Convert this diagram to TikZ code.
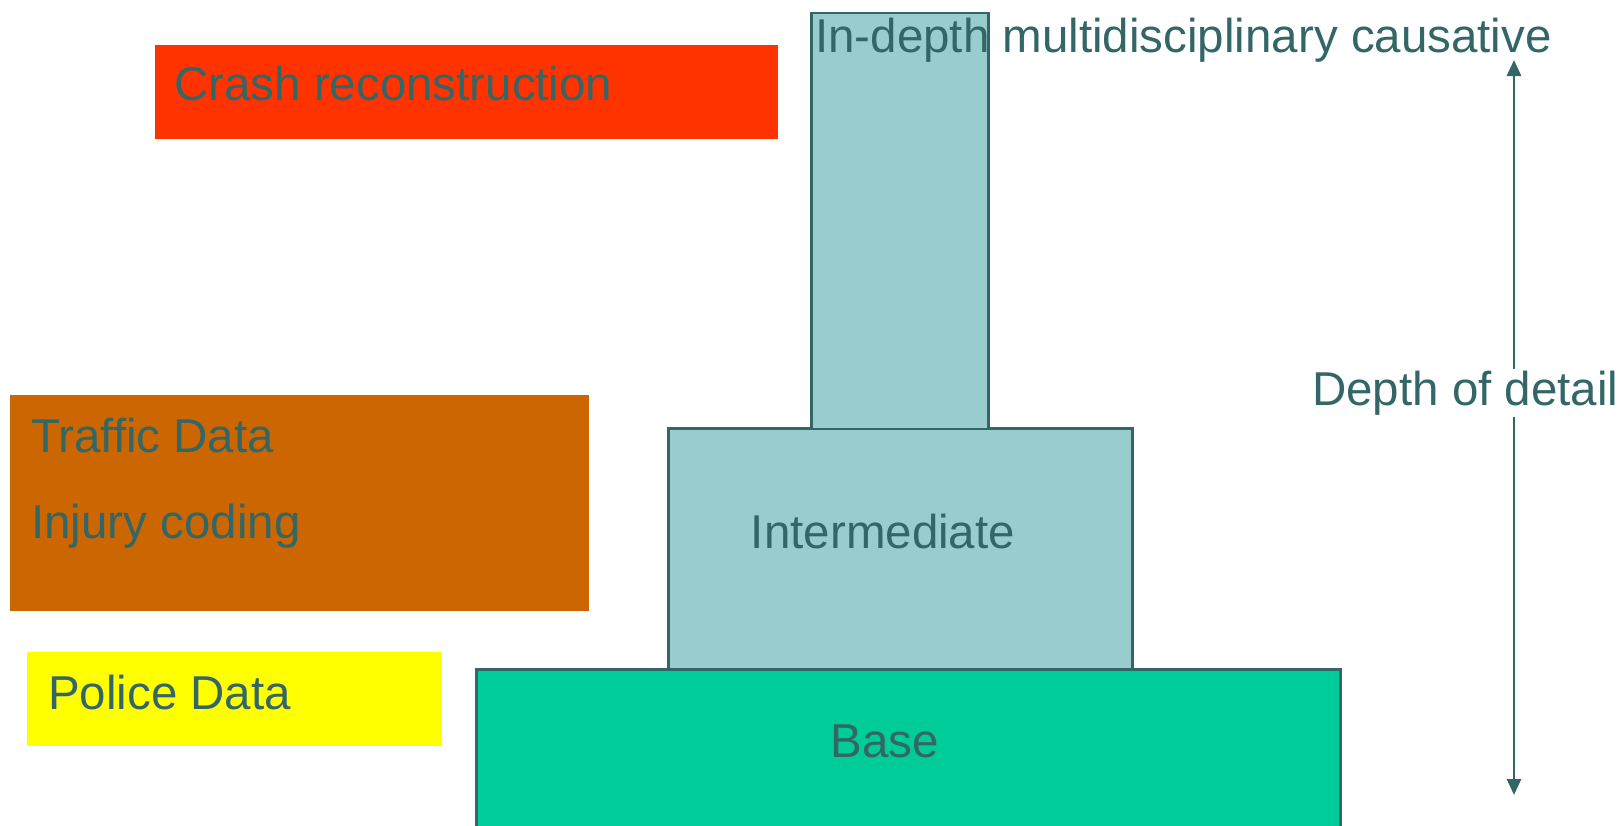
\documentclass[tikz,border=0pt]{standalone}
\usepackage{fontspec}
\setmainfont{Liberation Sans}
\usetikzlibrary{arrows.meta}
\definecolor{ink}{HTML}{336666}
\definecolor{crashred}{HTML}{FF3300}
\definecolor{traforange}{HTML}{CC6600}
\definecolor{polyellow}{HTML}{FFFF00}
\definecolor{tealbox}{HTML}{99CCCC}
\definecolor{basegreen}{HTML}{00CC99}
\tikzset{
  plainbox/.style={rectangle, inner sep=0pt, anchor=north west},
  tierbox/.style={plainbox, draw=ink, line width=2.5pt},
  lbl/.style={text=ink, font=\fontsize{47.5}{57}\selectfont, inner sep=0pt},
}
\begin{document}
\begin{tikzpicture}[x=1pt,y=-1pt]
\useasboundingbox (0,0) rectangle (1623,825);
\clip (0,0) rectangle (1623,825);
% left colored boxes
\node[plainbox, fill=crashred, minimum width=623pt, minimum height=94.5pt] (crash) at (155,44.5) {};
\node[plainbox, fill=traforange, minimum width=579pt, minimum height=216pt] (traffic) at (9.5,394.5) {};
\node[plainbox, fill=polyellow, minimum width=415pt, minimum height=94pt] (police) at (27,652) {};
% tiers
\node[tierbox, fill=basegreen, minimum width=864pt, minimum height=180pt] (base) at (475,668) {};
\node[tierbox, fill=tealbox, minimum width=464pt, minimum height=241pt] (inter) at (667,427) {};
\node[tierbox, fill=tealbox, minimum width=177pt, minimum height=416pt] (top) at (810,11.5) {};
% labels
\node[lbl, anchor=base west] (tcrash) at (174,100) {Crash reconstruction};
\node[lbl, anchor=base west] (ttraffic) at (31,452) {Traffic Data};
\node[lbl, anchor=base west] (tinjury) at (31,538) {Injury coding};
\node[lbl, anchor=base west] (tpolice) at (48,709) {Police Data};
\node[lbl, anchor=base] (tinter) at (883,548) {Intermediate};
\node[lbl, anchor=base] (tbase) at (885,757) {Base};
\node[lbl, anchor=base west] (tdepth) at (815,52) {In-depth multidisciplinary causative};
% depth arrow
\coordinate (atop) at (1514,60);
\coordinate (abot) at (1514,795);
\draw[ink, line width=2.8pt, {Triangle[length=16pt,width=14pt]}-{Triangle[length=16pt,width=14pt]}] (atop) -- (abot);
\node[lbl, anchor=base west, fill=white, inner sep=2pt] (tdetail) at (1310,405) {Depth of detail};
\end{tikzpicture}
\end{document}
